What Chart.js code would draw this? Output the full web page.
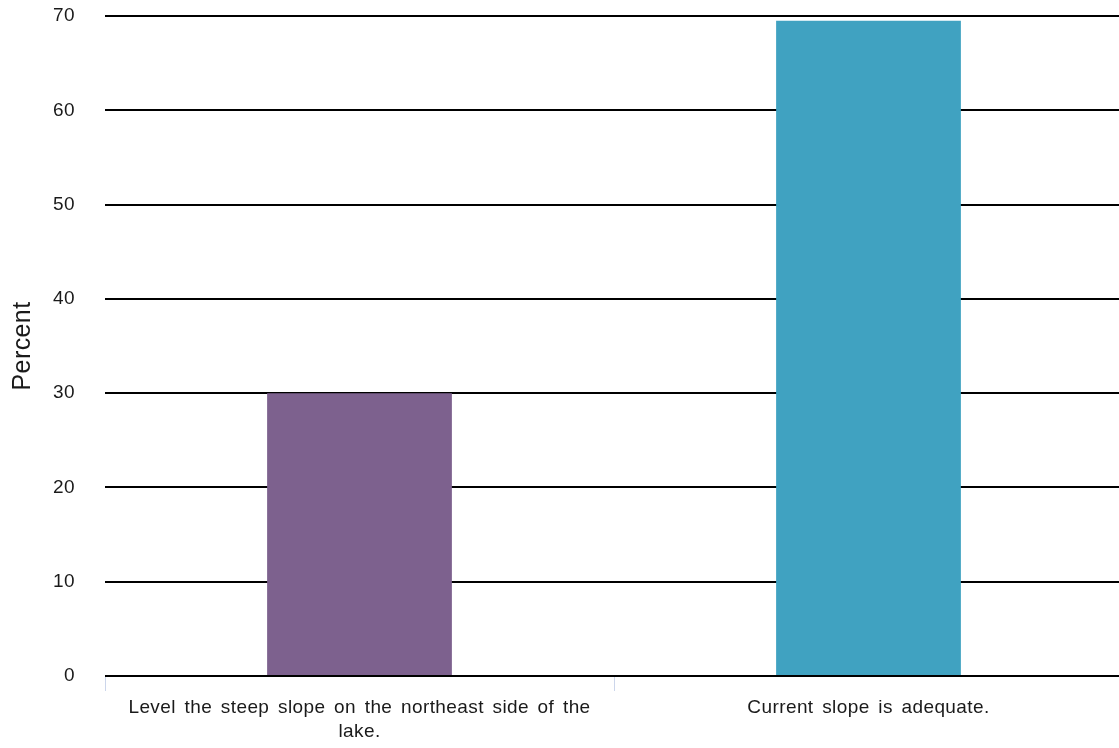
<!DOCTYPE html>
<html>
<head>
<meta charset="utf-8">
<script src="https://cdn.jsdelivr.net/npm/chart.js@4/dist/chart.umd.min.js"></script>
<style>
  html, body { margin: 0; padding: 0; background: #fff; overflow: hidden; }
  #wrap { width: 1123px; height: 748px; position: relative; }
</style>
</head>
<body>
<div id="wrap"><canvas id="c"></canvas></div>
<script>
const categories = [
  ["Level the steep slope on the northeast side of the", "lake."],
  "Current slope is adequate."
];
const percentValues = [30.0, 69.5];
const barColors = ["#7d618e", "#40a2c1"];
const yTicks = [0, 10, 20, 30, 40, 50, 60, 70];

const FONT = "'Liberation Sans', Arial, Helvetica, sans-serif";

const spacingPlugin = {
  id: 'spacing',
  apply(chart) {
    chart.ctx.letterSpacing = '0.4px';
    chart.ctx.wordSpacing = '3px';
  },
  beforeUpdate(chart) { this.apply(chart); },
  beforeLayout(chart) { this.apply(chart); },
  beforeDraw(chart) { this.apply(chart); },
  afterResize(chart) { this.apply(chart); }
};

new Chart(document.getElementById('c'), {
  type: 'bar',
  plugins: [spacingPlugin],
  data: {
    labels: categories,
    datasets: [{
      label: 'Percent',
      data: percentValues,
      backgroundColor: barColors,
      borderWidth: 0,
      categoryPercentage: 1,
      barPercentage: 0.363
    }]
  },
  options: {
    responsive: true,
    maintainAspectRatio: false,
    animation: false,
    layout: { autoPadding: false, padding: { left: 0, top: 16, right: 0, bottom: 0 } },
    plugins: {
      legend: { display: false },
      tooltip: { enabled: false }
    },
    scales: {
      x: {
        afterFit: (s) => { s.height = 72; s.paddingLeft = 0; s.paddingRight = 0; },
        grid: {
          display: true,
          drawOnChartArea: false,
          drawTicks: true,
          tickLength: 15,
          color: '#ccd6eb',
          lineWidth: 1,
          offset: true
        },
        border: { display: false },
        ticks: {
          color: '#1a1a1a',
          padding: 5,
          maxRotation: 0,
          autoSkip: false,
          font: { family: FONT, size: 19, lineHeight: 1.26 }
        }
      },
      y: {
        min: 0,
        max: 70,
        afterFit: (s) => { s.width = 105; s.paddingTop = 0; s.paddingBottom = 0; },
        afterBuildTicks: (axis) => { axis.ticks = yTicks.map(v => ({ value: v })); },
        grid: {
          color: '#000',
          lineWidth: 2,
          drawTicks: false
        },
        border: { display: false },
        ticks: {
          color: '#1a1a1a',
          padding: 30,
          font: { family: FONT, size: 19 }
        },
        title: {
          display: true,
          text: 'Percent',
          color: '#1a1a1a',
          padding: { top: 8, bottom: 7 },
          font: { family: FONT, size: 25 }
        }
      }
    }
  }
});
</script>
</body>
</html>
